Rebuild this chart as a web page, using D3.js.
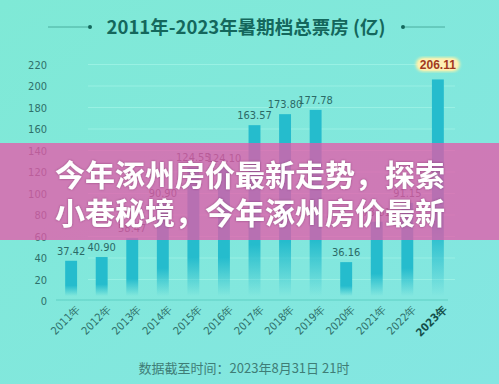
<!DOCTYPE html>
<html><head><meta charset="utf-8">
<script src="https://cdn.jsdelivr.net/npm/d3@7"></script>
<style>html,body{margin:0;padding:0;background:#80e8d8;}svg{display:block;}</style>
</head><body><svg id="c" width="499" height="384"></svg>
<script>
const years = ["2011年","2012年","2013年","2014年","2015年","2016年","2017年","2018年","2019年","2020年","2021年","2022年","2023年"];
const values = [37.42,40.90,58.47,90.90,124.55,124.10,163.57,173.80,177.78,36.16,73.81,91.35,206.11];
const labels = ["37.42","40.90","58.47","90.90","124.55","124.10","163.57","173.80","177.78","36.16","73.81","91.15","206.11"];
const yTicks = [0,20,40,60,80,100,120,140,160,180,200,220];
const title = "2011年-2023年暑期档总票房 (亿)";
const overlayLines = ["今年涿州房价最新走势，探索","小巷秘境，今年涿州房价最新"];
const footnote = "数据截至时间：2023年8月31日  21时";

const svg = d3.select("#c");
const W=499,H=384;
const defs = svg.append("defs");
const bg = defs.append("linearGradient").attr("id","bg").attr("x1",0).attr("x2",1).attr("y1",0).attr("y2",1);
bg.append("stop").attr("offset","0%").attr("stop-color","#7fe9d6");
bg.append("stop").attr("offset","100%").attr("stop-color","#84e6e2");
svg.append("rect").attr("width",W).attr("height",H).attr("fill","url(#bg)");

const bgrad = defs.append("linearGradient").attr("id","bar").attr("x1",0).attr("x2",0).attr("y1",0).attr("y2",1).attr("gradientUnits","objectBoundingBox");
bgrad.append("stop").attr("offset","0%").attr("stop-color","#25bccd");
bgrad.append("stop").attr("offset","70%").attr("stop-color","#25bccd");
bgrad.append("stop").attr("offset","100%").attr("stop-color","#25bccd").attr("stop-opacity",0);

const x = d3.scaleBand().domain(years).range([56,453]).paddingInner(0.61).paddingOuter(0.3);
const y = d3.scaleLinear().domain([0,220]).range([301,64.5]);

// title
const tg = svg.append("g");
tg.append("text").attr("x",246).attr("y",34).attr("text-anchor","middle")
  .attr("font-family","'Noto Sans CJK SC'").attr("font-weight","bold").attr("font-size",18.5)
  .attr("fill","#14675c").text(title);
tg.append("line").attr("x1",48).attr("x2",88).attr("y1",27).attr("y2",27).attr("stroke","#3c9f90").attr("stroke-width",0.8);
tg.append("circle").attr("cx",90).attr("cy",27).attr("r",2).attr("fill","#14675c");
tg.append("line").attr("x1",405).attr("x2",445).attr("y1",27).attr("y2",27).attr("stroke","#3c9f90").attr("stroke-width",0.8);
tg.append("circle").attr("cx",403).attr("cy",27).attr("r",2).attr("fill","#14675c");

// gridlines
svg.append("g").selectAll("line").data(yTicks.slice(1)).join("line")
  .attr("x1",88).attr("x2",455).attr("y1",d=>y(d)).attr("y2",d=>y(d))
  .attr("stroke","#9ff2e6").attr("stroke-width",0.8);

// y axis
const ya = svg.append("g").attr("transform","translate(47,0)")
  .call(d3.axisLeft(y).tickValues(yTicks).tickSize(0).tickPadding(0));
ya.select(".domain").remove();
ya.selectAll("text").attr("font-family","'Liberation Sans Narrow','DejaVu Sans Condensed',sans-serif").attr("font-size",11).attr("fill","#2f706a");

// bars
svg.append("g").selectAll("rect").data(values).join("rect")
  .attr("x",(d,i)=>x(years[i])).attr("width",x.bandwidth())
  .attr("y",d=>y(d)).attr("height",d=>296-y(d))
  .attr("fill","url(#bar)");

// x axis
const xa = svg.append("g").attr("transform","translate(0,300)")
  .call(d3.axisBottom(x).tickSize(0).tickPadding(0));
xa.select(".domain").attr("stroke","#5fcfc3").attr("stroke-width",1).attr("d","M56,0H448");
xa.selectAll("text").attr("font-family","'Liberation Sans Narrow','DejaVu Sans Condensed',sans-serif").attr("font-size",11)
  .attr("text-anchor","end")
  .attr("transform","translate(6,6) rotate(-45)").attr("dy","0.5em")
  .attr("font-weight",(d,i)=>i===years.length-1?"bold":"normal")
  .attr("fill",(d,i)=>i===years.length-1?"#134f4a":"#2f706a");

// value labels
const last = values.length-1;
svg.append("g").selectAll("text").data(values.slice(0,last)).join("text")
  .attr("x",(d,i)=>x(years[i])+x.bandwidth()/2).attr("y",(d)=>y(d)-6)
  .attr("text-anchor","middle").attr("font-family","'Liberation Sans Narrow','DejaVu Sans Condensed',sans-serif")
  .attr("font-size",11).attr("fill","#2b6a66").text((d,i)=>labels[i]);

// highlighted last label
const lx = x(years[last])+x.bandwidth()/2, ly = y(values[last])-15;
defs.append("filter").attr("id","glow").append("feGaussianBlur").attr("stdDeviation",1.5);
svg.append("rect").attr("x",lx-22).attr("y",ly-7).attr("width",44).attr("height",14).attr("rx",7)
  .attr("fill","#fff3a8").attr("filter","url(#glow)");
svg.append("rect").attr("x",lx-20).attr("y",ly-6).attr("width",40).attr("height",12).attr("rx",6)
  .attr("fill","#fdf0b4");
svg.append("text").attr("x",lx).attr("y",ly+4.5).attr("text-anchor","middle")
  .attr("font-family","'Liberation Sans',sans-serif").attr("font-weight","bold").attr("font-size",12)
  .attr("fill","#a23a1e").text(labels[last]);

// footnote
svg.append("text").attr("x",244).attr("y",373).attr("text-anchor","middle")
  .attr("font-family","'Noto Sans CJK SC'").attr("font-size",13).attr("fill","#3f7d76").text(footnote);

// overlay band
svg.append("rect").attr("x",0).attr("y",143).attr("width",W).attr("height",97)
  .attr("fill","rgb(230,88,170)").attr("fill-opacity",0.76);
const sh = defs.append("filter").attr("id","sh").attr("x","-5%").attr("y","-20%").attr("width","110%").attr("height","140%");
sh.append("feDropShadow").attr("dx",0).attr("dy",0).attr("stdDeviation",1.2).attr("flood-color","#6a2a5a").attr("flood-opacity",0.6);
svg.append("g").selectAll("text").data(overlayLines).join("text")
  .attr("x",250).attr("y",(d,i)=>186+i*38).attr("text-anchor","middle")
  .attr("font-family","'Noto Sans CJK SC'").attr("font-weight","bold").attr("font-size",30)
  .attr("fill","#ffffff").attr("filter","url(#sh)").text(d=>d);
</script></body></html>
